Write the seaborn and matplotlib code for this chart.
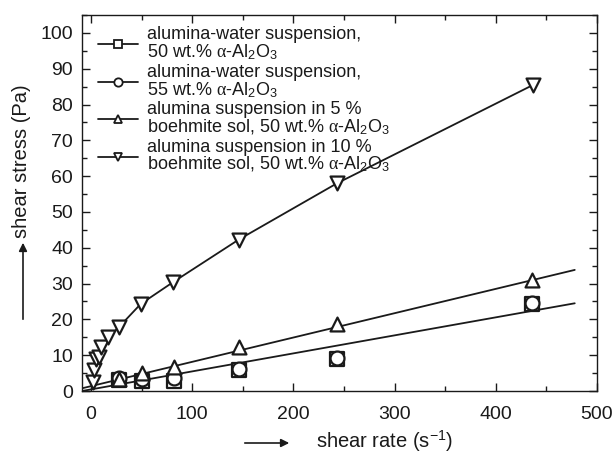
import numpy as np
import pandas as pd
import seaborn as sns
import matplotlib.pyplot as plt
from matplotlib.lines import Line2D
from matplotlib.ticker import MultipleLocator

# shear rates (1/s) of the measurement points
rate_low = [28, 50, 82, 146, 243, 436]
rate_10 = [2, 3, 5, 8, 10, 17, 28, 49, 81, 146, 243, 437]

# shear stress (Pa)
stress_50 = [3.0, 2.7, 2.8, 6.0, 9.0, 24.3]
stress_55 = [3.5, 3.4, 3.5, 6.2, 9.3, 24.6]
stress_5pct = [3.3, 4.9, 6.6, 12.4, 18.7, 31.0]
stress_10pct = [2.6, 5.9, 8.9, 9.4, 12.2, 15.0, 18.0, 24.3, 30.4, 42.3, 58.0, 85.5]

# linear fits (slope, intercept) drawn as straight lines
fit_water = (0.0503, 0.45)
fit_5pct = (0.0679, 1.36)
fit_range = [-9, 478]

labels = [
    "alumina-water suspension,\n50 wt.% $\\alpha$-Al$_2$O$_3$",
    "alumina-water suspension,\n55 wt.% $\\alpha$-Al$_2$O$_3$",
    "alumina suspension in 5 %\nboehmite sol, 50 wt.% $\\alpha$-Al$_2$O$_3$",
    "alumina suspension in 10 %\nboehmite sol, 50 wt.% $\\alpha$-Al$_2$O$_3$",
]
markers = ["s", "o", "^", "v"]

INK = "#1a1a1a"

sns.set_theme(style="ticks")
plt.rcParams["font.family"] = ["Liberation Sans", "DejaVu Sans"]
plt.rcParams["mathtext.fontset"] = "custom"
plt.rcParams["mathtext.rm"] = "Liberation Sans"
plt.rcParams["mathtext.it"] = "Liberation Serif"
plt.rcParams["axes.linewidth"] = 1.0

fig, ax = plt.subplots(figsize=(6.15, 4.53), dpi=100)
fig.subplots_adjust(left=82 / 615, right=597 / 615, top=1 - 15 / 453, bottom=1 - 391 / 453)

# fit lines
fx = np.array(fit_range, dtype=float)
for slope, icpt in [fit_water, fit_5pct]:
    sns.lineplot(x=fx, y=slope * fx + icpt, ax=ax, color=INK, lw=1.3, zorder=1)

# connected series
sns.lineplot(x=rate_10, y=stress_10pct, ax=ax, color=INK, lw=1.3, sort=False, zorder=1)

mkw = dict(s=100, facecolor="white", edgecolor=INK, linewidth=1.6, zorder=3, ax=ax)
sns.scatterplot(x=rate_low, y=stress_50, marker="s", **mkw)
sns.scatterplot(x=rate_low, y=stress_55, marker="o", **mkw)
sns.scatterplot(x=rate_low, y=stress_5pct, marker="^", **mkw)
sns.scatterplot(x=rate_10, y=stress_10pct, marker="v", **mkw)

ax.set_xlim(-9, 500)
ax.set_ylim(0, 105)
ax.xaxis.set_major_locator(MultipleLocator(100))
ax.xaxis.set_minor_locator(MultipleLocator(50))
ax.yaxis.set_major_locator(MultipleLocator(10))
ax.yaxis.set_minor_locator(MultipleLocator(5))
ax.tick_params(which="both", direction="in", top=True, right=True, color=INK)
ax.tick_params(which="major", length=6, width=1.0, labelsize=14, labelcolor=INK)
ax.tick_params(which="minor", length=3.5, width=1.0)
ax.tick_params(axis="x", pad=11)
ax.tick_params(axis="y", pad=6.5)
for sp in ax.spines.values():
    sp.set_color(INK)
ax.set_xlabel("")
ax.set_ylabel("")

handles = [
    Line2D([], [], color=INK, lw=1.3, marker=m, markersize=6, markerfacecolor="white",
           markeredgecolor=INK, markeredgewidth=1.3)
    for m in markers
]
leg = ax.legend(handles, labels, loc="upper left", frameon=False, fontsize=13,
                handlelength=2.2, handletextpad=0.5, labelspacing=0.1,
                borderaxespad=0.2, bbox_to_anchor=(0.01, 1.0))
for t in leg.get_texts():
    t.set_linespacing(0.95)
    t.set_color(INK)

# axis labels with arrows
fig.text(385 / 615, 1 - 441 / 453, "shear rate (s$^{-1}$)", ha="center", va="center",
         fontsize=14.5, color=INK)
fig.text(22 / 615, 1 - 161 / 453, "shear stress (Pa)", ha="center", va="center",
         rotation=90, fontsize=14.5, color=INK)
ax.annotate("", xy=(292 / 615, 1 - 443 / 453), xytext=(242 / 615, 1 - 443 / 453),
            xycoords="figure fraction", textcoords="figure fraction",
            arrowprops=dict(arrowstyle="-|>", color=INK, lw=1.2, mutation_scale=12))
ax.annotate("", xy=(23 / 615, 1 - 240 / 453), xytext=(23 / 615, 1 - 322 / 453),
            xycoords="figure fraction", textcoords="figure fraction",
            arrowprops=dict(arrowstyle="-|>", color=INK, lw=1.2, mutation_scale=12))

fig.savefig("out.png", dpi=100)
